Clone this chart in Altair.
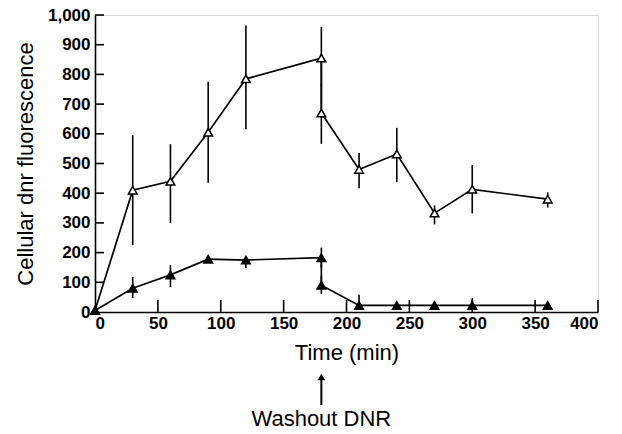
import altair as alt
import pandas as pd

# ---- data ----
time_open = [0, 30, 60, 90, 120, 180, 180, 210, 240, 270, 300, 360]
val_open = [5, 410, 440, 605, 785, 855, 670, 480, 532, 333, 413, 380]
lo_open = [5, 225, 300, 435, 615, 760, 566, 417, 437, 295, 332, 352]
hi_open = [5, 595, 565, 775, 965, 960, 770, 535, 620, 359, 495, 403]

time_fill = [0, 30, 60, 90, 120, 180, 180, 210, 240, 270, 300, 360]
val_fill = [5, 80, 125, 178, 175, 183, 90, 22, 22, 22, 22, 22]
lo_fill = [5, 47, 84, 178, 148, 150, 61, 8, 14, 22, 7, 14]
hi_fill = [5, 118, 158, 178, 185, 217, 120, 58, 30, 22, 47, 35]

x_ticks = [0, 50, 100, 150, 200, 250, 300, 350, 400]
y_ticks = [0, 100, 200, 300, 400, 500, 600, 700, 800, 900, 1000]
washout_time = [180]
washout_label = ["Washout DNR"]

df_open = pd.DataFrame({"t": time_open, "v": val_open, "lo": lo_open,
                        "hi": hi_open, "i": list(range(len(time_open)))})
df_fill = pd.DataFrame({"t": time_fill, "v": val_fill, "lo": lo_fill,
                        "hi": hi_fill, "i": list(range(len(time_fill)))})
df_xt = pd.DataFrame({"t": x_ticks[1:]})
df_yt = pd.DataFrame({"v": y_ticks[1:]})
df_wash = pd.DataFrame({"t": washout_time, "label": washout_label})

FONT = "Liberation Sans"

xscale = alt.Scale(domain=[0, 400], nice=False, zero=False)
yscale = alt.Scale(domain=[0, 1000], nice=False)

x_axis = alt.Axis(values=x_ticks, format="d", title="Time (min)", titlePadding=11,
                  labelPadding=3)
y_axis = alt.Axis(values=y_ticks, format=",d", title="Cellular dnr fluorescence",
                  titlePadding=10, labelPadding=5)


def X(field):
    return alt.X(field, scale=xscale, axis=x_axis)


def Y(field):
    return alt.Y(field, scale=yscale, axis=y_axis)


xtick = alt.Chart(df_xt).mark_rule(color="black", strokeWidth=1.6).encode(
    x=X("t:Q"), y=alt.value(297), y2=alt.value(285))
ytick = alt.Chart(df_yt).mark_rule(color="black", strokeWidth=1.6).encode(
    y=Y("v:Q"), x=alt.value(0), x2=alt.value(9))


def series(df, filled):
    err = alt.Chart(df).mark_rule(color="black", strokeWidth=1.6).encode(
        x=X("t:Q"), y=Y("lo:Q"), y2="hi:Q")
    line = alt.Chart(df).mark_line(color="black", strokeWidth=1.7).encode(
        x=X("t:Q"), y=Y("v:Q"), order="i:Q")
    pts = alt.Chart(df).mark_point(
        shape="triangle-up", size=75, filled=filled, color="black",
        fill="black" if filled else "white", stroke="black", strokeWidth=1.5,
        opacity=1).encode(x=X("t:Q"), y=Y("v:Q"))
    return err + line + pts


arrow_shaft = alt.Chart(df_wash).mark_rule(color="black", strokeWidth=2).encode(
    x=X("t:Q"), y=alt.value(362), y2=alt.value(390))
arrow_head = alt.Chart(df_wash).mark_point(
    shape="triangle-up", size=60, filled=True, color="black", opacity=1).encode(
    x=X("t:Q"), y=alt.value(362))
arrow_text = alt.Chart(df_wash).mark_text(
    font=FONT, fontSize=22, color="black", baseline="alphabetic").encode(
    x=X("t:Q"), y=alt.value(411), text="label:N")

chart = alt.layer(
    xtick, ytick,
    series(df_open, False), series(df_fill, True),
    arrow_shaft, arrow_head, arrow_text,
).properties(
    width=503, height=297,
    autosize=alt.AutoSizeParams(type="none"),
    padding={"left": 95, "top": 15, "right": 24, "bottom": 122},
).configure_view(stroke=None).configure(background="white").configure_axis(
    ticks=False, grid=False, domainColor="black", domainWidth=1.6,
    labelFont=FONT, labelFontSize=17, labelFontWeight="bold", labelColor="black",
    titleFont=FONT, titleFontSize=22, titleFontWeight="normal", titleColor="black",
)

chart.save("out.html", embed_options={"renderer": "svg", "actions": False})
